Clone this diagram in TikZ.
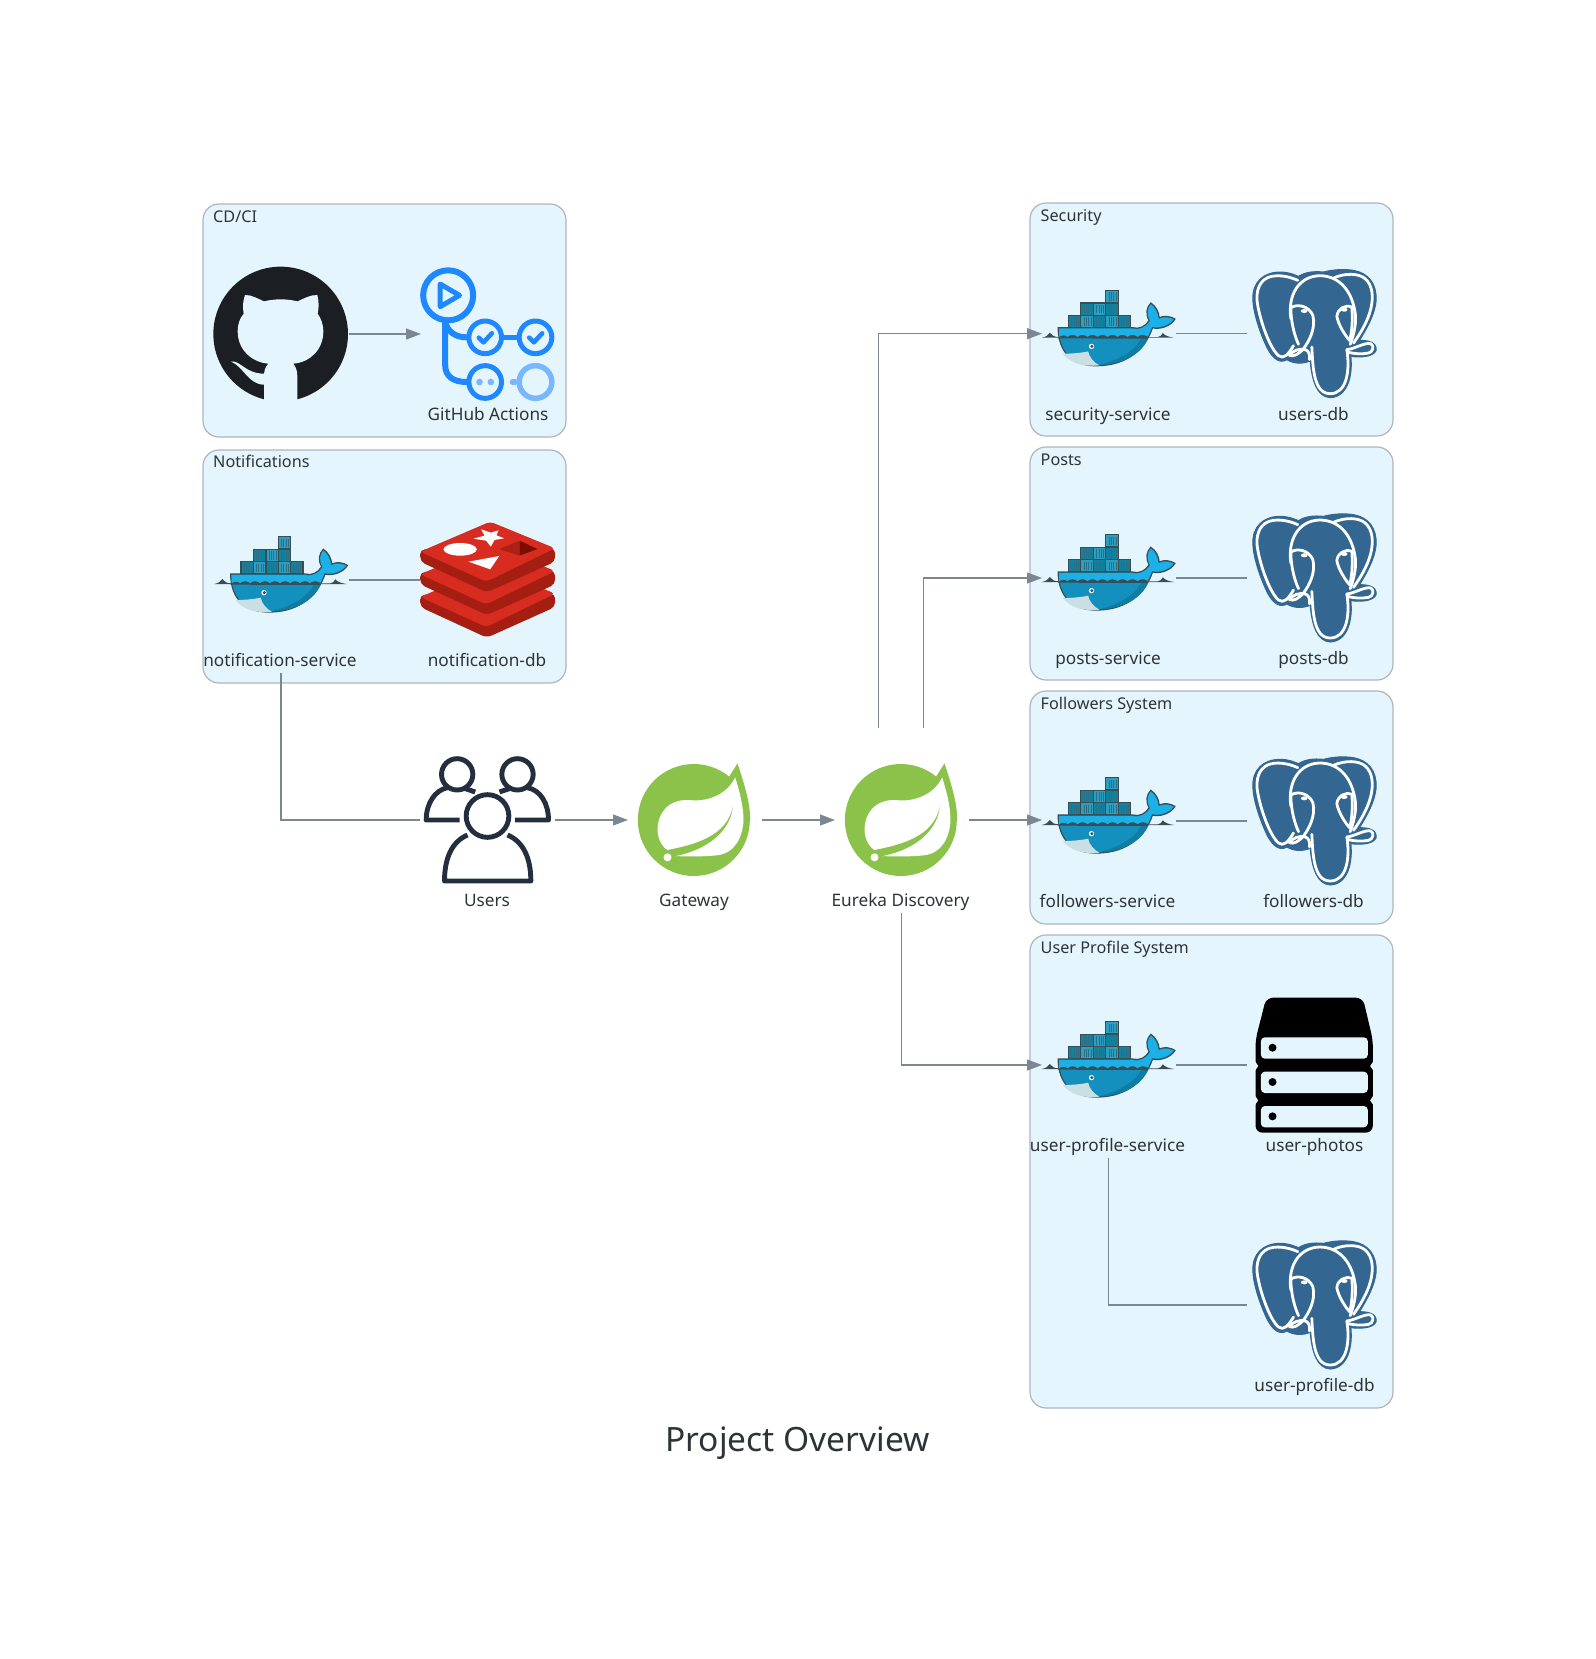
\documentclass[tikz,border=0pt]{standalone}
\usepackage{fontspec}
\setmainfont{Noto Sans}
\usetikzlibrary{arrows.meta}
\definecolor{clfill}{HTML}{E5F5FD}
\definecolor{cledge}{HTML}{AEB6BE}
\definecolor{ln}{HTML}{7B8894}
\definecolor{txt}{HTML}{2D3436}
\definecolor{ghdark}{HTML}{1B1F23}
\definecolor{acblue}{HTML}{2088FF}
\definecolor{acpale}{HTML}{79B8FF}
\definecolor{ddark}{HTML}{394D54}
\definecolor{dboxa}{HTML}{12809F}
\definecolor{dboxb}{HTML}{2C9EC0}
\definecolor{dstripe}{HTML}{2F6F84}
\definecolor{dtop}{HTML}{1BB1E7}
\definecolor{dbody}{HTML}{1390BD}
\definecolor{dshade}{HTML}{0E7CA3}
\definecolor{dbelly}{HTML}{C9DFE3}
\definecolor{rtop}{HTML}{D82C20}
\definecolor{rside}{HTML}{A41E11}
\definecolor{rdark}{HTML}{7A0C00}
\definecolor{rmid}{HTML}{AD2115}
\definecolor{pg}{HTML}{336791}
\definecolor{spring}{HTML}{8BC34A}
\definecolor{usr}{HTML}{232F3E}
\tikzset{
  x=1pt,y=-1pt,
  clusterbox/.style={draw=cledge,fill=clfill,line width=1.2pt,rounded corners=16pt,minimum width=363pt,inner sep=0pt,outer sep=0pt},
  cltitle/.style={anchor=base west,inner sep=0pt,text=txt,font=\fontsize{16.2}{20}\selectfont},
  iconnode/.style={minimum width=135pt,minimum height=185pt,inner sep=0pt,outer sep=0pt},
  lbl/.style={anchor=base,inner sep=0pt,text=txt,font=\fontsize{17.2}{21}\selectfont},
  conn/.style={draw=ln,line width=1.25pt},
  arr/.style={conn,shorten >=-1pt,-{Triangle[length=15pt,width=11pt,fill=ln]}},
  zs/.style={x=.33333pt,y=-.33333pt}
}
\newcommand\dbox[3]{%
  \draw[fill=#3,draw=ddark,line width=1.1pt] (#1,#2) rectangle ++(37,37);
  \foreach \i in {9,16,23,30}{\draw[draw=dstripe,line width=.4pt] (#1+\i,#2+6) -- (#1+\i,#2+31);}
}
\newcommand\dockerat[1]{\begin{scope}[shift={(#1.center)},zs,shift={(-273,-390)}]
  \dbox{153}{335}{dboxa}\dbox{190}{335}{dboxb}\dbox{228}{335}{dboxa}\dbox{265}{335}{dboxb}\dbox{302}{335}{dboxa}
  \dbox{190}{298}{dboxa}\dbox{228}{298}{dboxb}\dbox{265}{298}{dboxa}
  \dbox{265}{260}{dboxb}
  \fill[ddark] (72,402) .. controls (85,400) and (92,395) .. (97,387) .. controls (102,395) and (110,400) .. (125,400)
     -- (420,400) .. controls (428,400) and (432,395) .. (436,388) .. controls (442,396) and (455,400) .. (470,402) -- cycle;
  \path[fill=dbody,draw=ddark,line width=1.2pt] (122,372) -- (345,372) .. controls (365,378) and (385,368) .. (395,350)
     .. controls (383,330) and (388,310) .. (400,298) .. controls (415,308) and (424,325) .. (425,342)
     .. controls (440,335) and (460,338) .. (472,346) .. controls (460,368) and (425,378) .. (405,372)
     .. controls (385,430) and (335,485) .. (240,486) .. controls (165,488) and (122,445) .. (122,372) -- cycle;
  \fill[dshade] (392,404) .. controls (375,445) and (325,482) .. (244,484) .. controls (300,470) and (350,445) .. (372,404) -- cycle;
  \fill[dtop] (125,375) -- (343,375) .. controls (365,381) and (385,371) .. (398,352)
     .. controls (386,330) and (391,312) .. (400,302) .. controls (412,312) and (421,328) .. (423,346)
     .. controls (438,339) and (456,341) .. (468,347) .. controls (456,364) and (425,374) .. (403,369)
     .. controls (399,380) and (395,390) .. (391,398)
     .. controls (380,392) and (370,392) .. (360,400) .. controls (350,392) and (340,392) .. (330,400)
     .. controls (320,392) and (310,392) .. (300,400) .. controls (290,392) and (280,392) .. (270,400)
     .. controls (260,392) and (250,392) .. (240,400) .. controls (230,392) and (220,392) .. (210,400)
     .. controls (200,392) and (190,392) .. (180,400) .. controls (170,392) and (160,392) .. (150,400)
     .. controls (140,392) and (132,395) .. (125,400) -- cycle;
  \fill[ddark] (120,404) .. controls (135,392) and (142,394) .. (150,400) .. controls (160,392) and (170,392) .. (180,400)
     .. controls (190,392) and (200,392) .. (210,400) .. controls (220,392) and (230,392) .. (240,400)
     .. controls (250,392) and (260,392) .. (270,400) .. controls (280,392) and (290,392) .. (300,400)
     .. controls (310,392) and (320,392) .. (330,400) .. controls (340,392) and (350,392) .. (360,400)
     .. controls (370,392) and (380,392) .. (392,400) -- (390,405) -- cycle;
  \fill[dbelly] (136,450) .. controls (160,450) and (190,448) .. (212,443) .. controls (215,460) and (230,478) .. (246,485) .. controls (200,490) and (160,480) .. (136,450) -- cycle;
  \fill[white] (222,428) circle (8);
  \fill[ddark] (223,428) circle (5);
\end{scope}}
\newcommand\pgat[1]{\begin{scope}[shift={(#1.center)},zs,shift={(-853,-400)}]
  \path[fill=pg,draw=pg,line width=1pt,line join=round] (668,300) .. controls (665,245) and (700,215) .. (750,215)
     .. controls (775,215) and (790,222) .. (805,228) .. controls (825,215) and (850,212) .. (880,215)
     .. controls (905,208) and (940,205) .. (970,210) .. controls (1015,218) and (1040,250) .. (1038,300)
     .. controls (1035,340) and (1010,385) .. (988,420) .. controls (1015,420) and (1040,425) .. (1038,450)
     .. controls (1030,470) and (990,472) .. (962,468) .. controls (968,520) and (955,590) .. (900,592)
     .. controls (860,590) and (845,540) .. (840,482) .. controls (815,492) and (790,490) .. (770,478)
     .. controls (750,490) and (730,478) .. (712,445) .. controls (690,400) and (670,340) .. (668,300) -- cycle;
  \begin{scope}[draw=white,line width=2.8pt,line cap=round,line join=round]
  \draw (803,240) .. controls (770,225) and (735,222) .. (712,232) .. controls (685,245) and (678,275) .. (681,305)
     .. controls (690,365) and (720,445) .. (745,466) .. controls (760,478) and (775,462) .. (790,436);
  \draw (782,355) .. controls (772,285) and (805,228) .. (868,226) .. controls (930,226) and (968,275) .. (976,345)
     .. controls (978,380) and (968,410) .. (960,432);
  \draw (912,232) .. controls (945,218) and (985,218) .. (1005,235) .. controls (1028,255) and (1030,290) .. (1022,325)
     .. controls (1012,365) and (990,400) .. (970,428);
  \draw (782,322) .. controls (800,310) and (835,315) .. (848,345) .. controls (858,385) and (835,425) .. (820,445)
     .. controls (805,462) and (790,470) .. (778,465) .. controls (785,452) and (810,442) .. (825,448) .. controls (835,450) and (840,462) .. (838,478);
  \draw (782,322) .. controls (782,370) and (795,410) .. (805,432);
  \draw (845,440) .. controls (848,500) and (850,580) .. (900,580) .. controls (950,580) and (960,510) .. (950,448);
  \draw (920,348) .. controls (922,325) and (945,312) .. (965,320) .. controls (968,360) and (965,400) .. (958,420) .. controls (945,405) and (925,375) .. (920,348);
  \draw (950,448) .. controls (975,445) and (1005,425) .. (1022,430) .. controls (1032,435) and (1030,455) .. (1015,458) .. controls (995,462) and (970,460) .. (955,456);
  \end{scope}
  \fill[white] (822,332) ellipse (10 and 6);
  \fill[white] (942,328) ellipse (10 and 6);
\end{scope}}
\newcommand\redisat[1]{\begin{scope}[shift={(#1.center)},zs,shift={(-892,-390)}]
  \foreach \d in {136,68,0}{
    \fill[rside,rounded corners=5pt] (690,298+\d) -- (690,335+\d) -- (890,427+\d) -- (1095,335+\d) -- (1095,295+\d) -- cycle;
    \fill[rtop,rounded corners=4pt] (690,305+\d) -- (900,215+\d) -- (1095,295+\d) -- (888,395+\d) -- cycle;
  }
  \fill[white] (850,266) -- (883,257) -- (873,238) -- (902,248) -- (925,241) -- (919,256) -- (942,265) -- (913,270) -- (902,290) -- (888,272) -- cycle;
  \fill[white] (810,298) ellipse (50 and 19);
  \fill[white] (835,335) -- (927,318) -- (900,358) -- cycle;
  \fill[rmid] (928,297) -- (988,272) -- (988,317) -- cycle;
  \fill[rdark] (988,272) -- (1042,297) -- (988,317) -- cycle;
\end{scope}}
\newcommand\storeat[1]{\begin{scope}[shift={(#1.center)},zs,shift={(-853,-315)}]
  \fill[black,rounded corners=7pt] (708,113) -- (998,113) -- (1028,240) -- (1028,518) -- (676,518) -- (676,240) -- cycle;
  \fill[clfill] (672,300) -- (684,318) -- (672,336) -- cycle (672,403) -- (684,421) -- (672,439) -- cycle
     (1032,300) -- (1020,318) -- (1032,336) -- cycle (1032,403) -- (1020,421) -- (1032,439) -- cycle;
  \foreach \y in {232,335,438}{
    \fill[clfill,rounded corners=4pt] (692,\y) rectangle (1013,\y+64);
    \fill[black] (727,\y+31) circle (12);
  }
\end{scope}}
\newcommand\springat[1]{\begin{scope}[shift={(#1.center)},zs,shift={(-853,-240)}]
  \fill[spring] (851,240) circle (168);
  \fill[spring] (958,108) -- (982,70) .. controls (1005,140) and (1020,190) .. (1020,240) -- (900,240) -- cycle;
  \fill[white] (975,112) .. controls (950,165) and (890,187) .. (835,180) .. controls (770,178) and (742,225) .. (742,268)
     .. controls (742,295) and (755,320) .. (772,330) -- (790,348) .. controls (840,350) and (880,350) .. (920,346)
     .. controls (975,340) and (998,290) .. (1000,240) .. controls (1000,195) and (985,145) .. (975,112) -- cycle;
  \fill[spring] (772,330) .. controls (850,315) and (950,290) .. (968,200) .. controls (960,280) and (880,335) .. (785,350) -- cycle;
  \fill[white] (772,352) circle (12);
\end{scope}}
\newcommand\usersat[1]{\begin{scope}[shift={(#1.center)},zs,shift={(-232,-240)}]
  \begin{scope}[draw=usr,line width=4.9pt,line join=round]
  \draw (141,103) circle (47);
  \draw (322,103) circle (47);
  \draw (232,228) circle (64);
  \draw (148,240) -- (48,240) .. controls (48,190) and (75,150) .. (112,143);
  \draw (163,145) -- (195,156);
  \draw (315,240) -- (415,240) .. controls (415,190) and (390,150) .. (352,143);
  \draw (300,145) -- (268,156);
  \draw (172,285) .. controls (125,305) and (103,355) .. (103,423) -- (362,423) .. controls (362,355) and (340,305) .. (292,285);
  \end{scope}
\end{scope}}
\newcommand\githubat[1]{\begin{scope}[shift={(#1.center)},zs,shift={(-273,-433)}]
  \fill[ghdark] (272,433) circle (202);
  \fill[clfill] (222,335) .. controls (205,328) and (185,315) .. (165,316) .. controls (158,335) and (158,355) .. (161,372)
     .. controls (148,388) and (143,405) .. (143,425) .. controls (143,480) and (185,518) .. (235,522)
     .. controls (225,532) and (222,545) .. (222,560) -- (222,645) -- (322,645) -- (322,560)
     .. controls (322,545) and (318,532) .. (310,522) .. controls (360,518) and (400,480) .. (400,425)
     .. controls (400,405) and (394,388) .. (383,372) .. controls (387,355) and (387,335) .. (382,316)
     .. controls (360,315) and (340,328) .. (322,335) .. controls (290,327) and (255,327) .. (222,335) -- cycle;
  \fill[clfill] (123,516) .. controls (150,510) and (165,552) .. (222,552) -- (222,585) .. controls (175,585) and (160,530) .. (123,516) -- cycle;
\end{scope}}
\newcommand\actionsat[1]{\begin{scope}[shift={(#1.center)},zs,shift={(-892,-432)}]
  \begin{scope}[draw=acblue,line width=6pt,line cap=round,line join=round]
  \draw (774,316) circle (75);
  \draw[line width=5pt] (750,282) -- (808,316) -- (750,350) -- cycle;
  \draw (765,395) -- (765,525) .. controls (765,560) and (790,576) .. (830,576);
  \draw (765,395) .. controls (772,425) and (795,442) .. (830,442);
  \draw[line width=5pt] (885,442) circle (49);
  \draw[line width=5pt] (1036,442) circle (49);
  \draw[line width=5pt] (940,442) -- (982,442);
  \draw[line width=5pt] (885,576) circle (49);
  \draw[line width=4.6pt] (866,443) -- (880,457) -- (905,430);
  \draw[line width=4.6pt] (1017,443) -- (1031,457) -- (1056,430);
  \end{scope}
  \fill[acpale] (868,576) circle (10) (902,576) circle (10);
  \draw[draw=acpale,line width=5.5pt] (1036,576) circle (49);
  \draw[draw=acpale,line width=5.5pt,line cap=round] (967,576) -- (975,576);
\end{scope}}
\begin{document}
\begin{tikzpicture}
\useasboundingbox (0,0) rectangle (1595,1659);
% clusters
\node[clusterbox,minimum height=233pt,anchor=north west] (cdci) at (203,204) {};
\node[clusterbox,minimum height=233pt,anchor=north west] (notif) at (203,450) {};
\node[clusterbox,minimum height=233pt,anchor=north west] (secc) at (1030,203) {};
\node[clusterbox,minimum height=233pt,anchor=north west] (postc) at (1030,447) {};
\node[clusterbox,minimum height=233pt,anchor=north west] (follc) at (1030,691) {};
\node[clusterbox,minimum height=473pt,anchor=north west] (profc) at (1030,935) {};
\node[cltitle] (t1) at (213,222) {CD/CI};
\node[cltitle] (t2) at (213,467) {Notifications};
\node[cltitle] (t3) at (1040.5,221) {Security};
\node[cltitle] (t4) at (1040.5,465) {Posts};
\node[cltitle] (t5) at (1040.5,709) {Followers System};
\node[cltitle] (t6) at (1040.5,953) {User Profile System};
% icon nodes
\node[iconnode] (gh) at (281,334) {};
\node[iconnode] (act) at (487.5,334) {};
\node[iconnode] (nsvc) at (281,580) {};
\node[iconnode] (ndb) at (487.5,580) {};
\node[iconnode] (users) at (487.5,820) {};
\node[iconnode] (gw) at (694.5,820) {};
\node[iconnode] (eur) at (901.5,820) {};
\node[iconnode] (ssvc) at (1108.5,333.7) {};
\node[iconnode] (sdb) at (1314.5,333.7) {};
\node[iconnode] (psvc) at (1108.5,578) {};
\node[iconnode] (pdb) at (1314.5,578) {};
\node[iconnode] (fsvc) at (1108.5,821) {};
\node[iconnode] (fdb) at (1314.5,821) {};
\node[iconnode] (usvc) at (1108.5,1065) {};
\node[iconnode] (uph) at (1314.5,1065) {};
\node[iconnode] (udb) at (1314.5,1305) {};
% labels
\node[lbl] (l1) at (488,420.5) {GitHub Actions};
\node[lbl] (l2) at (280,666.5) {notification-service};
\node[lbl] (l3) at (487,666.5) {notification-db};
\node[lbl] (l4) at (487,906) {Users};
\node[lbl] (l5) at (694,906) {Gateway};
\node[lbl] (l6) at (900.5,906) {Eureka Discovery};
\node[lbl] (l7) at (1108,420) {security-service};
\node[lbl] (l8) at (1313.5,420) {users-db};
\node[lbl] (l9) at (1108,664) {posts-service};
\node[lbl] (l10) at (1313.5,664) {posts-db};
\node[lbl] (l11) at (1107.5,907.5) {followers-service};
\node[lbl] (l12) at (1313.5,907.5) {followers-db};
\node[lbl] (l13) at (1107.5,1151.5) {user-profile-service};
\node[lbl] (l14) at (1314.5,1151.5) {user-photos};
\node[lbl] (l15) at (1314.5,1391) {user-profile-db};
\node[anchor=base,inner sep=0pt,text=txt,font=\fontsize{33.5}{40}\selectfont] (title) at (797.5,1451) {Project Overview};
% icons
\githubat{gh}\actionsat{act}
\dockerat{nsvc}\redisat{ndb}
\usersat{users}\springat{gw}\springat{eur}
\dockerat{ssvc}\pgat{sdb}
\dockerat{psvc}\pgat{pdb}
\dockerat{fsvc}\pgat{fdb}
\dockerat{usvc}\storeat{uph}\pgat{udb}
% connectors
\draw[arr] (gh) -- (act);
\draw[conn] (nsvc) -- (ndb);
\draw[conn] (nsvc.south) |- (users.west);
\draw[arr] (users) -- (gw);
\draw[arr] (gw) -- (eur);
\draw[arr] ([xshift=-22.7pt]eur.north) |- (ssvc.west);
\draw[arr] ([xshift=22.3pt]eur.north) |- (psvc.west);
\draw[arr] (eur.east) -- (fsvc.west |- eur.east);
\draw[arr] (eur.south) |- (usvc.west);
\draw[conn] (ssvc) -- (sdb);
\draw[conn] (psvc) -- (pdb);
\draw[conn] (fsvc) -- (fdb);
\draw[conn] (usvc) -- (uph);
\draw[conn] (usvc.south) |- (udb.west);
\end{tikzpicture}
\end{document}
